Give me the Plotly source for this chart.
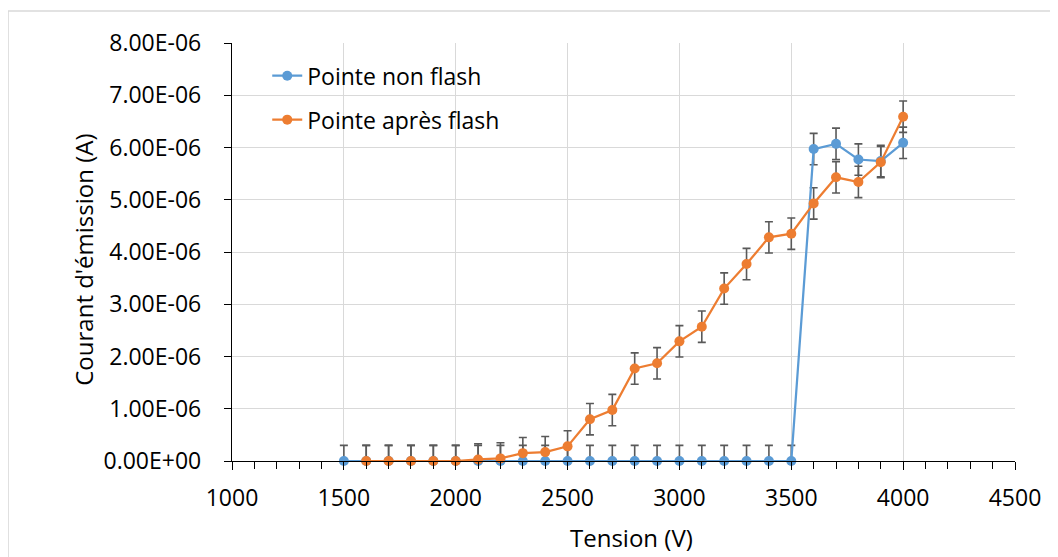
import plotly.graph_objects as go

# Data
tension_non_flash = [1500, 1600, 1700, 1800, 1900, 2000, 2100, 2200, 2300, 2400, 2500,
                     2600, 2700, 2800, 2900, 3000, 3100, 3200, 3300, 3400, 3500,
                     3600, 3700, 3800, 3900, 4000]
courant_non_flash = [0, 0, 0, 0, 0, 0, 0, 0, 0, 0, 0,
                     0, 0, 0, 0, 0, 0, 0, 0, 0, 0,
                     5.97e-6, 6.07e-6, 5.77e-6, 5.74e-6, 6.09e-6]
err_non_flash = [3e-7] * 26

tension_apres_flash = [1600, 1700, 1800, 1900, 2000, 2100, 2200, 2300, 2400, 2500,
                       2600, 2700, 2800, 2900, 3000, 3100, 3200, 3300, 3400, 3500,
                       3600, 3700, 3800, 3900, 4000]
courant_apres_flash = [0, 0, 0, 0, 0, 0.03e-6, 0.05e-6, 0.15e-6, 0.17e-6, 0.28e-6,
                       0.80e-6, 0.975e-6, 1.77e-6, 1.87e-6, 2.29e-6, 2.57e-6, 3.30e-6, 3.77e-6, 4.28e-6, 4.35e-6,
                       4.93e-6, 5.43e-6, 5.34e-6, 5.72e-6, 6.59e-6]
err_apres_flash = [3e-7] * 25

y_tickvals = [0, 1e-6, 2e-6, 3e-6, 4e-6, 5e-6, 6e-6, 7e-6, 8e-6]
y_ticktext = ["0.00E+00", "1.00E-06", "2.00E-06", "3.00E-06", "4.00E-06",
              "5.00E-06", "6.00E-06", "7.00E-06", "8.00E-06"]
x_tickvals = [1000, 1500, 2000, 2500, 3000, 3500, 4000, 4500]

x_title = "Tension (V)"
y_title = "Courant d'émission (A)"

BLUE = "#5B9BD5"
ORANGE = "#ED7D31"
ERR = "#595959"
FONT = "Open Sans"

fig = go.Figure()

series = [
    ("Pointe non flash", tension_non_flash, courant_non_flash, err_non_flash, BLUE),
    ("Pointe après flash", tension_apres_flash, courant_apres_flash, err_apres_flash, ORANGE),
]

# error bars (clipped to the plot area)
for name, x, y, e, c in series:
    fig.add_trace(go.Scatter(
        x=x, y=y, mode="markers", showlegend=False, hoverinfo="skip",
        marker=dict(size=1, opacity=0),
        error_y=dict(type="data", array=e, visible=True, color=ERR,
                     thickness=1.6, width=4),
        cliponaxis=True,
    ))

# lines and markers
for i, (name, x, y, e, c) in enumerate(series):
    fig.add_trace(go.Scatter(
        x=x, y=y, name=name, mode="lines+markers", legendgroup=f"g{i}",
        line=dict(color=c, width=2.25),
        marker=dict(color=c, size=10),
        cliponaxis=False,
    ))

fig.update_layout(
    width=1050, height=549,
    margin=dict(l=224, r=43, t=35, b=96),
    paper_bgcolor="white", plot_bgcolor="white",
    font=dict(family=FONT, size=23, color="#000000"),
    showlegend=True,
    legend=dict(x=0.045, y=0.973, xanchor="left", yanchor="top",
                bgcolor="rgba(0,0,0,0)", font=dict(size=23, family=FONT),
                tracegroupgap=11, itemwidth=30),
    shapes=[dict(type="rect", xref="paper", yref="paper",
                 x0=-0.286, x1=1.2, y0=-0.5, y1=1.0766,
                 line=dict(color="#d9d9d9", width=1.5), layer="below")],
    annotations=[
        dict(text=x_title, xref="paper", yref="paper", x=0.5096, y=-0.182,
             xanchor="center", yanchor="middle", showarrow=False,
             font=dict(size=24, family=FONT, color="#000000")),
        dict(text=y_title, xref="paper", yref="paper", x=-0.190, y=0.482,
             xanchor="center", yanchor="middle", showarrow=False, textangle=-90,
             font=dict(size=24, family=FONT, color="#000000")),
    ],
)

fig.update_xaxes(
    range=[1000, 4500], tickvals=x_tickvals,
    showgrid=True, gridcolor="#d9d9d9", gridwidth=1.3,
    showline=True, linecolor="#000000", linewidth=1.3,
    ticks="outside", ticklen=8, tickcolor="#000000", tickwidth=1.3,
    minor=dict(dtick=100, ticks="outside", ticklen=7, tickcolor="#000000",
               tickwidth=1.3, showgrid=False),
    zeroline=False,
    tickfont=dict(size=23, family=FONT, color="#000000"),
    ticklabelstandoff=8,
)

fig.update_yaxes(
    range=[0, 8e-6], tickvals=y_tickvals, ticktext=y_ticktext,
    showgrid=True, gridcolor="#d9d9d9", gridwidth=1.3,
    showline=True, linecolor="#000000", linewidth=1.3,
    ticks="outside", ticklen=7, tickcolor="#000000", tickwidth=1.3,
    zeroline=False,
    tickfont=dict(size=23, family=FONT, color="#000000"),
    ticklabelstandoff=18,
)

fig.write_html("out.html")
